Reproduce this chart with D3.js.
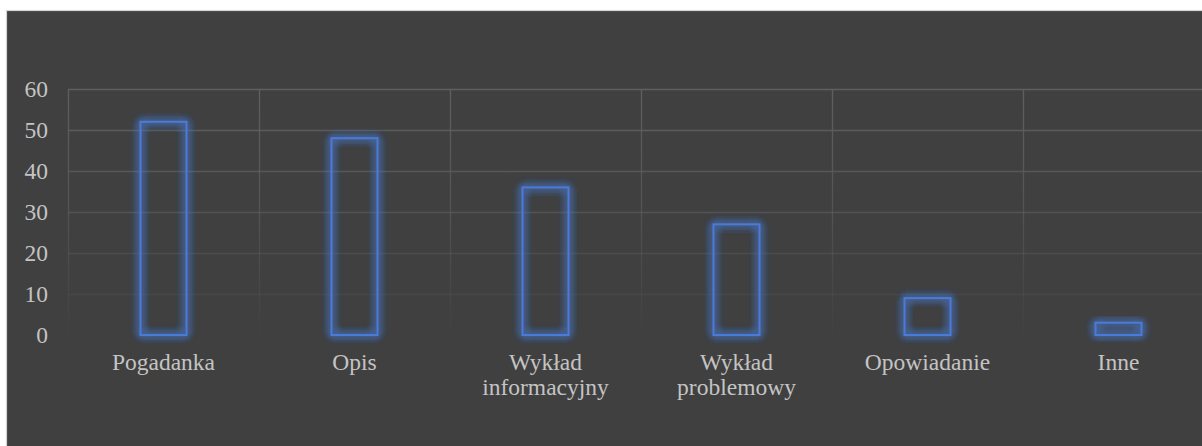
<!DOCTYPE html>
<html>
<head>
<meta charset="utf-8">
<script src="https://cdn.jsdelivr.net/npm/d3@7"></script>
<style>
  html, body { margin: 0; padding: 0; background: #ffffff; }
  svg { display: block; }
</style>
</head>
<body>
<div id="chart"></div>
<script>
const categories = [["Pogadanka"], ["Opis"], ["Wykład", "informacyjny"], ["Wykład", "problemowy"], ["Opowiadanie"], ["Inne"]];
const values = [52, 48, 36, 27, 9, 3];
const yTicks = [0, 10, 20, 30, 40, 50, 60];

const W = 1202, H = 446;
const plot = { left: 68, top: 89, bottom: 335, band: 191 };
const svg = d3.select("#chart").append("svg").attr("width", W).attr("height", H);

const defs = svg.append("defs");
const grad = defs.append("linearGradient").attr("id", "gridGrad")
  .attr("gradientUnits", "userSpaceOnUse")
  .attr("x1", 0).attr("x2", 0).attr("y1", plot.top).attr("y2", plot.bottom);
grad.append("stop").attr("offset", "0%").attr("stop-color", "#5f5f5f").attr("stop-opacity", 1);
grad.append("stop").attr("offset", "45%").attr("stop-color", "#5c5c5c").attr("stop-opacity", 0.75);
grad.append("stop").attr("offset", "100%").attr("stop-color", "#585858").attr("stop-opacity", 0.05);

const glow = defs.append("filter").attr("id", "glow")
  .attr("x", "-50%").attr("y", "-50%").attr("width", "200%").attr("height", "200%");
glow.append("feGaussianBlur").attr("in", "SourceGraphic").attr("stdDeviation", 4).attr("result", "blur");
const merge = glow.append("feMerge");
merge.append("feMergeNode").attr("in", "blur");
merge.append("feMergeNode").attr("in", "blur");
merge.append("feMergeNode").attr("in", "blur");
merge.append("feMergeNode").attr("in", "SourceGraphic");

// panel
svg.append("rect").attr("x", 6.5).attr("y", 10.5).attr("width", W + 10).attr("height", H + 10)
  .attr("fill", "#404040").attr("stroke", "#d4d4d4").attr("stroke-width", 1.2);

const x = d3.scaleBand().domain(d3.range(categories.length))
  .range([plot.left, plot.left + plot.band * categories.length]).paddingInner(0).paddingOuter(0);
const y = d3.scaleLinear().domain([0, 60]).range([plot.bottom, plot.top]);

// horizontal grid
svg.append("g").selectAll("line").data(yTicks.filter(d => d > 0)).join("line")
  .attr("x1", plot.left).attr("x2", plot.left + plot.band * categories.length)
  .attr("y1", d => y(d) + 0.5).attr("y2", d => y(d) + 0.5)
  .attr("stroke", "url(#gridGrad)").attr("stroke-width", 1.3);

// vertical grid
svg.append("g").selectAll("line").data(d3.range(categories.length)).join("line")
  .attr("x1", d => x(d) + 0.5).attr("x2", d => x(d) + 0.5)
  .attr("y1", plot.top).attr("y2", plot.bottom)
  .attr("stroke", "url(#gridGrad)").attr("stroke-width", 1.3);

// y tick labels
svg.append("g").selectAll("text").data(yTicks).join("text")
  .attr("x", 48).attr("y", d => y(d)).attr("dy", "0.34em")
  .attr("text-anchor", "end")
  .attr("font-family", "'Liberation Serif', 'Times New Roman', serif")
  .attr("font-size", 23.5).attr("fill", "#c4c4c4")
  .text(d => d);

// bars
const bw = 46;
svg.append("g").selectAll("rect").data(values).join("rect")
  .attr("x", (d, i) => x(i) + x.bandwidth() / 2 - bw / 2)
  .attr("y", d => y(d))
  .attr("width", bw)
  .attr("height", d => y(0) - y(d))
  .attr("fill", "none")
  .attr("stroke", "#4a7bd6").attr("stroke-width", 2)
  .attr("filter", "url(#glow)");

// category labels
const lab = svg.append("g").selectAll("text").data(categories).join("text")
  .attr("x", (d, i) => x(i) + x.bandwidth() / 2)
  .attr("y", 370)
  .attr("text-anchor", "middle")
  .attr("font-family", "'Liberation Serif', 'Times New Roman', serif")
  .attr("font-size", 23.5).attr("fill", "#c4c4c4");
lab.each(function(d, i) {
  const t = d3.select(this);
  d.forEach((line, j) => {
    t.append("tspan").attr("x", x(i) + x.bandwidth() / 2).attr("dy", j === 0 ? 0 : 25).text(line);
  });
});
</script>
</body>
</html>
